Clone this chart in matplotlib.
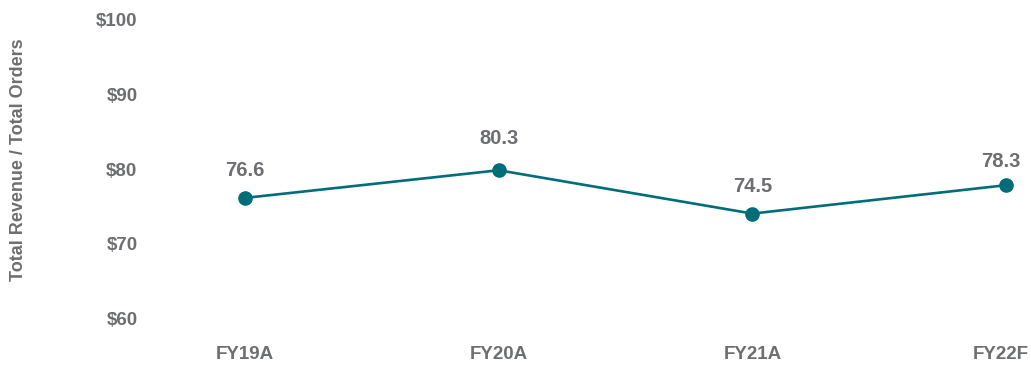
import matplotlib
matplotlib.use("Agg")
import matplotlib.pyplot as plt
import matplotlib.transforms as mtransforms

categories = ["FY19A", "FY20A", "FY21A", "FY22F"]
values = [76.6, 80.3, 74.5, 78.3]
ytick_values = [60, 70, 80, 90, 100]
ytick_labels = ["$60", "$70", "$80", "$90", "$100"]

plt.rcParams['font.family'] = ['Liberation Sans', 'DejaVu Sans']
GRAY = "#6d6e71"
TEAL = "#006d7a"

W, H = 1031, 365
fig = plt.figure(figsize=(W / 100, H / 100), dpi=100)
left_px, right_px = 150, 1025
top_px, bot_px = 23.1, 321.9
ax = fig.add_axes([left_px / W, (H - bot_px) / H, (right_px - left_px) / W, (bot_px - top_px) / H])

step = 253.67
x = list(range(len(categories)))
ax.plot(x, values, color=TEAL, lw=1.9, marker="o", markersize=9.5, clip_on=False, zorder=3)
ax.set_xlim(-(245 - left_px) / step, 3 + (right_px - 1006) / step)
ax.set_ylim(60, 100)

ax.set_xticks(x)
ax.set_xticklabels(categories, fontsize=13.5, fontweight="bold", color=GRAY)
ax.set_yticks(ytick_values)
ax.set_yticklabels(ytick_labels, fontsize=13.5, fontweight="bold", color=GRAY)
ax.tick_params(axis="both", length=0)
ax.tick_params(axis="x", pad=17)
ax.tick_params(axis="y", pad=9)
off = mtransforms.ScaledTranslation(0, 3.5 / 100, fig.dpi_scale_trans)
for lbl in ax.get_yticklabels():
    lbl.set_transform(lbl.get_transform() + off)
# keep the last category label inside the figure
last = ax.get_xticklabels()[-1]
last.set_transform(last.get_transform() + mtransforms.ScaledTranslation(-5 / 100, 0, fig.dpi_scale_trans))

for s in ax.spines.values():
    s.set_visible(False)

label_offsets = [27, 32, 27, 24]
label_dx = [0, 0, 0, -5]
for xi, v, o, dx in zip(x, values, label_offsets, label_dx):
    ax.annotate(f"{v:.1f}", (xi, v), xytext=(dx * 0.72, o * 0.72), textcoords="offset points",
                ha="center", va="center", fontsize=14.5, fontweight="bold", color=GRAY,
                annotation_clip=False)

fig.text(19 / W, 1 - 160 / H, "Total Revenue / Total Orders", rotation=90,
         ha="center", va="center", fontsize=13, fontweight="bold", color=GRAY)

fig.savefig("out.png", dpi=100)
